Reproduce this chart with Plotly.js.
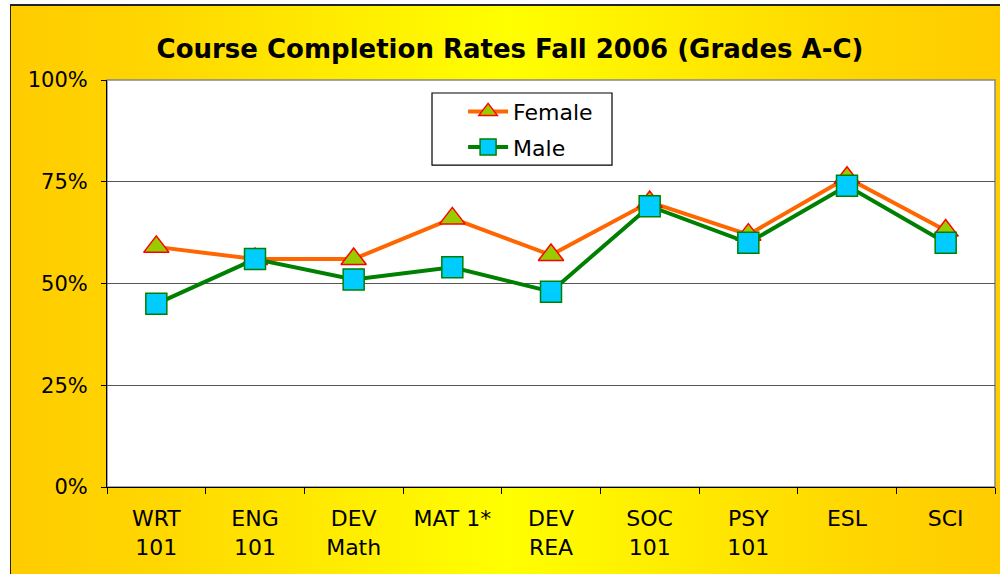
<!DOCTYPE html>
<html>
<head>
<meta charset="utf-8">
<script src="https://cdn.plot.ly/plotly-3.0.1.min.js"></script>
<style>
  html, body { margin: 0; padding: 0; background: #ffffff; }
  #bg {
    position: absolute; left: 10px; top: 4px; width: 990px; height: 570px;
    box-sizing: border-box;
    border-left: 1.5px solid #222; border-top: 2px solid #222;
    background: linear-gradient(to right, #FFCC00 0%, #FFD400 12%, #FFFF00 50%, #FFD400 88%, #FFCC00 100%);
  }
  #chart { position: absolute; left: 0; top: 0; width: 1000px; height: 574px; }
</style>
</head>
<body>
<div id="bg"></div>
<div id="chart"></div>
<script>
const categories = ["WRT<br>101", "ENG<br>101", "DEV<br>Math", "MAT 1*", "DEV<br>REA", "SOC<br>101", "PSY<br>101", "ESL", "SCI"];
const female = [0.59, 0.56, 0.56, 0.66, 0.57, 0.70, 0.62, 0.76, 0.63];
const male = [0.45, 0.56, 0.51, 0.54, 0.48, 0.69, 0.60, 0.74, 0.60];
const yTickVals = [0, 0.25, 0.5, 0.75, 1];
const yTickText = ["0%", "25%", "50%", "75%", "100%"];

const traces = [
  {
    x: categories, y: female, name: "Female", type: "scatter", mode: "lines+markers",
    legendgroup: "f",
    line: { color: "#FF6600", width: 4 },
    marker: { symbol: "triangle-up", size: 22, color: "#99CC00", line: { color: "#FF0000", width: 1.5 } }
  },
  {
    x: categories, y: male, name: "Male", type: "scatter", mode: "lines+markers",
    legendgroup: "m",
    line: { color: "#008000", width: 4 },
    marker: { symbol: "square", size: 21, color: "#00CCFF", line: { color: "#008000", width: 1.5 } }
  }
];

const layout = {
  width: 1000, height: 574,
  paper_bgcolor: "rgba(0,0,0,0)",
  plot_bgcolor: "#ffffff",
  margin: { l: 107, r: 5, t: 80, b: 87 },
  font: { family: "DejaVu Sans, Verdana, sans-serif", size: 20, color: "#000" },
  title: {
    text: "<b>Course Completion Rates Fall 2006 (Grades A-C)</b>",
    font: { family: "DejaVu Sans, Verdana, sans-serif", size: 26, color: "#000" },
    x: 0.51, xanchor: "center", y: 0.915, yanchor: "middle"
  },
  xaxis: {
    type: "category",
    showline: true, linecolor: "#000", linewidth: 1,
    ticks: "outside", ticklen: 6, tickcolor: "#000", tickson: "boundaries",
    showgrid: false, zeroline: false,
    ticklabelstandoff: 12,
    tickfont: { size: 22 },
    range: [-0.5, 8.5], fixedrange: true
  },
  yaxis: {
    range: [0, 1],
    tickvals: yTickVals, ticktext: yTickText,
    showline: true, linecolor: "#000", linewidth: 1,
    ticks: "outside", ticklen: 5, tickcolor: "#000",
    showgrid: true, gridcolor: "#555555", gridwidth: 1,
    zeroline: false,
    ticklabelstandoff: 9,
    tickfont: { size: 21 },
    fixedrange: true
  },
  shapes: [
    { type: "rect", xref: "paper", yref: "paper", x0: 0, x1: 1, y0: 0, y1: 1,
      line: { color: "#888888", width: 1.5 }, layer: "below" },
    { type: "rect", xref: "paper", yref: "paper", x0: 0.366, x1: 0.5687, y0: 0.791, y1: 0.968,
      fillcolor: "#ffffff", line: { color: "#000000", width: 1.2 }, layer: "above" }
  ],
  legend: {
    x: 0.401, y: 0.974, xanchor: "left", yanchor: "top",
    bgcolor: "rgba(0,0,0,0)", borderwidth: 0,
    font: { size: 22, color: "#000" },
    itemwidth: 40,
    tracegroupgap: 4
  },
  showlegend: true
};

Plotly.newPlot("chart", traces, layout, { displayModeBar: false, staticPlot: true });
</script>
</body>
</html>
